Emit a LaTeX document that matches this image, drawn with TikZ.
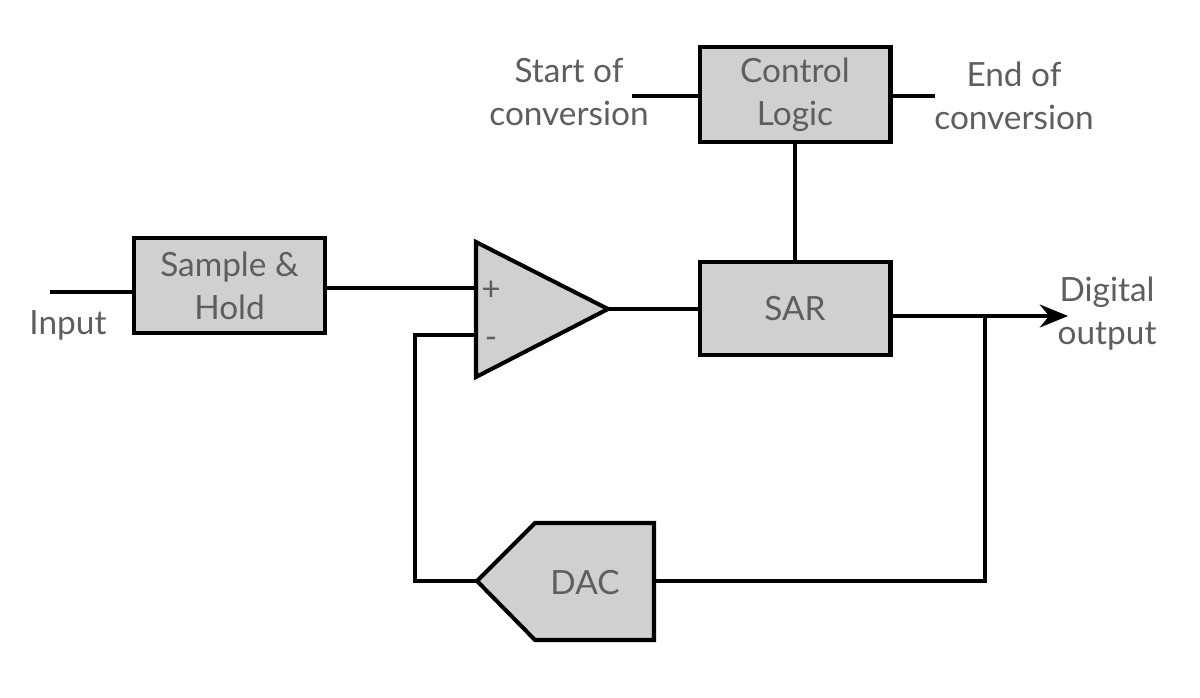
\documentclass[tikz,border=0pt]{standalone}
\usepackage{fontspec}
\setmainfont{Lato}
\usetikzlibrary{arrows.meta}
\definecolor{boxgray}{HTML}{D0D0D0}
\definecolor{textgray}{HTML}{5E5E5E}
\tikzset{
  block/.style={draw=black, fill=boxgray, line width=2.3pt, inner sep=0pt,
    minimum width=3.82cm, minimum height=1.9cm, align=center, text=textgray},
  lbl/.style={align=center, text=textgray, inner sep=0pt},
  wire/.style={line width=2.3pt},
}
\begin{document}
\begin{tikzpicture}[x=0.02cm,y=-0.02cm,
  every node/.style={font=\fontsize{19}{24.5}\selectfont}]
\useasboundingbox (0,0) rectangle (1200,697);
% blocks
\node[block] (ctrl) at (795,94.5) {Control\\Logic};
\node[block, minimum height=1.86cm] (sar) at (795,308.5) {SAR};
\node[block] (sh) at (229.5,285.5) {Sample \&\\Hold};
% comparator
\coordinate (cmptop) at (476,242);
\coordinate (cmpbot) at (476,377);
\coordinate (cmpout) at (608,309);
\coordinate (plus) at (476,288);
\coordinate (minus) at (476,335);
\draw[wire, fill=boxgray, line join=miter] (cmptop) -- (cmpout) -- (cmpbot) -- cycle;
\node[lbl] (plussign) at (491,291) {+};
\node[lbl] (minussign) at (491,343) {-};
% DAC
\coordinate (dacin) at (654,581);
\coordinate (dacout) at (477,581);
\draw[wire, fill=boxgray, line join=miter] (dacout) -- (535,523) -- (654,523)
  -- (654,640) -- (535,640) -- cycle;
\node[lbl] (daclbl) at (585,583) {DAC};
% labels
\node[lbl] (soclbl) at (569,92) {Start of\\conversion};
\node[lbl] (eoclbl) at (1014,96) {End of\\conversion};
\node[lbl] (inlbl) at (68,325) {Input};
\node[lbl] (outlbl) at (1107,314) {Digital\\output};
% wires
\coordinate (soc) at (632,96);
\coordinate (eoc) at (935,96);
\coordinate (in) at (50,292);
\coordinate (dout) at (1068,316);
\coordinate (fb) at (985,316);
\coordinate (turn) at (415,335);
\draw[wire] (soc) -- (soc -| ctrl.west);
\draw[wire] (ctrl.east |- eoc) -- (eoc);
\draw[wire] (ctrl.south) -- (sar.north);
\draw[wire] (in) -- (in -| sh.west);
\draw[wire] (sh.east |- plus) -- (plus);
\draw[wire] (cmpout) -- (cmpout -| sar.west);
\draw[wire, -{Stealth[length=16pt,width=13pt]}] (sar.east |- dout) -- (dout);
\draw[wire] (fb) |- (dacin);
\draw[wire] (dacout) -| (turn) -- (minus);
\end{tikzpicture}
\end{document}
